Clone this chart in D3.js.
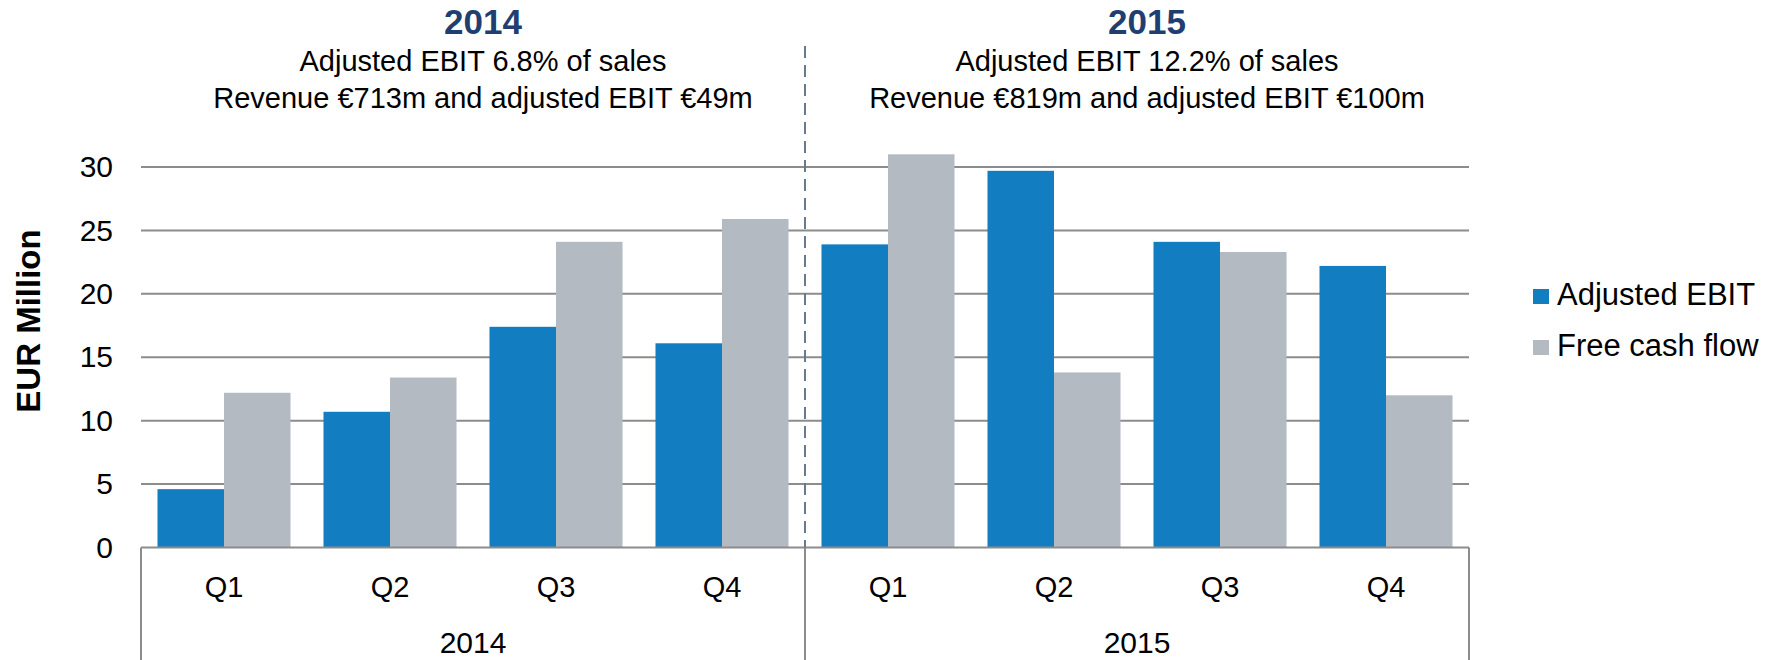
<!DOCTYPE html>
<html lang="en">
<head>
    <meta charset="UTF-8">
    <title>Adjusted EBIT and Free cash flow</title>
    <script src="https://d3js.org/d3.v7.min.js"></script>
    <style type="text/css">
        body { margin: 0; background: #fff; }
        svg text { font-family: "Liberation Sans", Arial, sans-serif; fill: #000; }
    </style>
</head>
<body>
    <svg width="1779" height="660"></svg>

    <script type="text/javascript">
        // data
        var years = ["2014", "2015"];
        var quarters = ["Q1", "Q2", "Q3", "Q4"];
        var series = ["Adjusted EBIT", "Free cash flow"];
        var adjustedEbit = [4.6, 10.7, 17.4, 16.1, 23.9, 29.7, 24.1, 22.2];
        var freeCashFlow = [12.2, 13.4, 24.1, 25.9, 31.0, 13.8, 23.3, 12.0];
        var yTicks = [0, 5, 10, 15, 20, 25, 30];
        var headerLine1 = ["Adjusted EBIT 6.8% of sales", "Adjusted EBIT 12.2% of sales"];
        var headerLine2 = ["Revenue €713m and adjusted EBIT €49m", "Revenue €819m and adjusted EBIT €100m"];

        (function() {
            var colors = ["#127ec1", "#b3bac2"];

            var svg = d3.select("svg"),
                plotLeft = 141, plotRight = 1469, plotTop = 167, zeroY = 547.5;

            var rows = [];
            years.forEach(function(yr, i) {
                quarters.forEach(function(q, j) {
                    var k = i * 4 + j;
                    rows.push({ key: yr + "-" + q, year: yr, q: q, values: [adjustedEbit[k], freeCashFlow[k]] });
                });
            });

            var x0 = d3.scaleBand().domain(rows.map(function(d) { return d.key; })).range([plotLeft, plotRight]);
            var x1 = d3.scaleBand().domain(series).range([0, x0.bandwidth()]).paddingOuter(0.248);
            var xYear = d3.scaleBand().domain(years).range([plotLeft, plotRight]);
            var y = d3.scaleLinear().domain([0, 30]).range([zeroY, plotTop]);

            // gridlines
            svg.append("g").selectAll("line")
                .data(yTicks.slice(1))
                .enter().append("line")
                .attr("x1", plotLeft).attr("x2", plotRight)
                .attr("y1", function(d) { return y(d); })
                .attr("y2", function(d) { return y(d); })
                .attr("stroke", "#8c8c8c")
                .attr("stroke-width", 2);

            // bars
            var groups = svg.append("g").selectAll("g")
                .data(rows)
                .enter().append("g")
                .attr("transform", function(d) { return "translate(" + x0(d.key) + ",0)"; });

            groups.selectAll("rect")
                .data(function(d) { return d.values.map(function(v, i) { return { s: series[i], v: v, i: i }; }); })
                .enter().append("rect")
                .attr("x", function(d) { return x1(d.s); })
                .attr("width", x1.bandwidth())
                .attr("y", function(d) { return y(d.v); })
                .attr("height", function(d) { return zeroY - y(d.v); })
                .attr("fill", function(d) { return colors[d.i]; });

            // y axis labels
            var yAxis = svg.append("g")
                .attr("transform", "translate(" + plotLeft + ",0)")
                .call(d3.axisLeft(y).tickValues(yTicks).tickSize(0).tickPadding(28));
            yAxis.select(".domain").remove();
            yAxis.selectAll("text")
                .attr("font-size", 30)
                .attr("font-family", "Liberation Sans, Arial, sans-serif")
                .attr("fill", "#000");

            svg.append("text")
                .attr("transform", "translate(40,321) rotate(-90)")
                .attr("text-anchor", "middle")
                .attr("font-size", 33)
                .attr("font-weight", "bold")
                .text("EUR Million");

            // category axis frame
            var frame = svg.append("g").attr("stroke", "#8c8c8c").attr("stroke-width", 2);
            frame.append("line")
                .attr("x1", plotLeft).attr("x2", plotRight)
                .attr("y1", zeroY).attr("y2", zeroY);
            frame.selectAll(".sep")
                .data(years.concat(["end"]))
                .enter().append("line")
                .attr("x1", function(d) { return d === "end" ? plotRight : xYear(d); })
                .attr("x2", function(d) { return d === "end" ? plotRight : xYear(d); })
                .attr("y1", zeroY).attr("y2", 660);

            svg.append("g").selectAll("text")
                .data(rows)
                .enter().append("text")
                .attr("x", function(d) { return x0(d.key) + x0.bandwidth() / 2; })
                .attr("y", 597)
                .attr("text-anchor", "middle")
                .attr("font-size", 29)
                .text(function(d) { return d.q; });

            svg.append("g").selectAll("text")
                .data(years)
                .enter().append("text")
                .attr("x", function(d) { return xYear(d) + xYear.bandwidth() / 2; })
                .attr("y", 653)
                .attr("text-anchor", "middle")
                .attr("font-size", 30)
                .text(function(d) { return d; });

            // dashed divider between years
            svg.append("line")
                .attr("x1", xYear("2015")).attr("x2", xYear("2015"))
                .attr("y1", 46).attr("y2", zeroY)
                .attr("stroke", "#687a8e")
                .attr("stroke-width", 2)
                .attr("stroke-dasharray", "12,7");

            // year headers
            var header = svg.append("g").selectAll("g")
                .data(years)
                .enter().append("g")
                .attr("transform", function(d) { return "translate(" + (xYear(d) + xYear.bandwidth() / 2 + 10) + ",0)"; });

            header.append("text")
                .attr("y", 34)
                .attr("text-anchor", "middle")
                .attr("font-size", 35)
                .attr("font-weight", "bold")
                .style("fill", "#203f70")
                .text(function(d) { return d; });

            header.append("text")
                .attr("y", 71)
                .attr("text-anchor", "middle")
                .attr("font-size", 29)
                .text(function(d, i) { return headerLine1[i]; });

            header.append("text")
                .attr("y", 108)
                .attr("text-anchor", "middle")
                .attr("font-size", 29)
                .text(function(d, i) { return headerLine2[i]; });

            // legend
            var legend = svg.append("g").selectAll("g")
                .data(series)
                .enter().append("g")
                .attr("transform", function(d, i) { return "translate(1533," + (289 + i * 51) + ")"; });

            legend.append("rect")
                .attr("width", 16).attr("height", 15)
                .attr("fill", function(d, i) { return colors[i]; });

            legend.append("text")
                .attr("x", 24).attr("y", 16)
                .attr("font-size", 31)
                .text(function(d) { return d; });
        })();
    </script>
</body>
</html>
